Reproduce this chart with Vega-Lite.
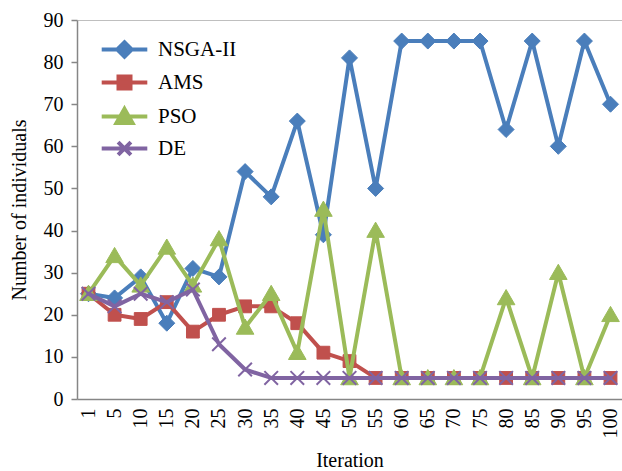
{
  "$schema": "https://vega.github.io/schema/vega-lite/v6.json",
  "width": 545,
  "height": 379,
  "autosize": "none",
  "padding": {"left": 77, "top": 20, "right": 0, "bottom": 72},
  "background": "white",
  "config": {
    "view": {"stroke": null},
    "font": "Liberation Serif",
    "axis": {"labelFont": "Liberation Serif", "titleFont": "Liberation Serif", "labelColor": "black", "titleColor": "black", "titleFontWeight": "normal", "labelFontSize": 20, "titleFontSize": 20}
  },
  "data": {"values": [
    {"iter": 1, "series": "NSGA-II", "value": 25}, {"iter": 5, "series": "NSGA-II", "value": 24}, {"iter": 10, "series": "NSGA-II", "value": 29}, {"iter": 15, "series": "NSGA-II", "value": 18}, {"iter": 20, "series": "NSGA-II", "value": 31}, {"iter": 25, "series": "NSGA-II", "value": 29}, {"iter": 30, "series": "NSGA-II", "value": 54}, {"iter": 35, "series": "NSGA-II", "value": 48}, {"iter": 40, "series": "NSGA-II", "value": 66}, {"iter": 45, "series": "NSGA-II", "value": 39}, {"iter": 50, "series": "NSGA-II", "value": 81}, {"iter": 55, "series": "NSGA-II", "value": 50}, {"iter": 60, "series": "NSGA-II", "value": 85}, {"iter": 65, "series": "NSGA-II", "value": 85}, {"iter": 70, "series": "NSGA-II", "value": 85}, {"iter": 75, "series": "NSGA-II", "value": 85}, {"iter": 80, "series": "NSGA-II", "value": 64}, {"iter": 85, "series": "NSGA-II", "value": 85}, {"iter": 90, "series": "NSGA-II", "value": 60}, {"iter": 95, "series": "NSGA-II", "value": 85}, {"iter": 100, "series": "NSGA-II", "value": 70},
    {"iter": 1, "series": "AMS", "value": 25}, {"iter": 5, "series": "AMS", "value": 20}, {"iter": 10, "series": "AMS", "value": 19}, {"iter": 15, "series": "AMS", "value": 23}, {"iter": 20, "series": "AMS", "value": 16}, {"iter": 25, "series": "AMS", "value": 20}, {"iter": 30, "series": "AMS", "value": 22}, {"iter": 35, "series": "AMS", "value": 22}, {"iter": 40, "series": "AMS", "value": 18}, {"iter": 45, "series": "AMS", "value": 11}, {"iter": 50, "series": "AMS", "value": 9}, {"iter": 55, "series": "AMS", "value": 5}, {"iter": 60, "series": "AMS", "value": 5}, {"iter": 65, "series": "AMS", "value": 5}, {"iter": 70, "series": "AMS", "value": 5}, {"iter": 75, "series": "AMS", "value": 5}, {"iter": 80, "series": "AMS", "value": 5}, {"iter": 85, "series": "AMS", "value": 5}, {"iter": 90, "series": "AMS", "value": 5}, {"iter": 95, "series": "AMS", "value": 5}, {"iter": 100, "series": "AMS", "value": 5},
    {"iter": 1, "series": "PSO", "value": 25}, {"iter": 5, "series": "PSO", "value": 34}, {"iter": 10, "series": "PSO", "value": 27}, {"iter": 15, "series": "PSO", "value": 36}, {"iter": 20, "series": "PSO", "value": 27}, {"iter": 25, "series": "PSO", "value": 38}, {"iter": 30, "series": "PSO", "value": 17}, {"iter": 35, "series": "PSO", "value": 25}, {"iter": 40, "series": "PSO", "value": 11}, {"iter": 45, "series": "PSO", "value": 45}, {"iter": 50, "series": "PSO", "value": 5}, {"iter": 55, "series": "PSO", "value": 40}, {"iter": 60, "series": "PSO", "value": 5}, {"iter": 65, "series": "PSO", "value": 5}, {"iter": 70, "series": "PSO", "value": 5}, {"iter": 75, "series": "PSO", "value": 5}, {"iter": 80, "series": "PSO", "value": 24}, {"iter": 85, "series": "PSO", "value": 5}, {"iter": 90, "series": "PSO", "value": 30}, {"iter": 95, "series": "PSO", "value": 5}, {"iter": 100, "series": "PSO", "value": 20},
    {"iter": 1, "series": "DE", "value": 25}, {"iter": 5, "series": "DE", "value": 22}, {"iter": 10, "series": "DE", "value": 25}, {"iter": 15, "series": "DE", "value": 23}, {"iter": 20, "series": "DE", "value": 26}, {"iter": 25, "series": "DE", "value": 13}, {"iter": 30, "series": "DE", "value": 7}, {"iter": 35, "series": "DE", "value": 5}, {"iter": 40, "series": "DE", "value": 5}, {"iter": 45, "series": "DE", "value": 5}, {"iter": 50, "series": "DE", "value": 5}, {"iter": 55, "series": "DE", "value": 5}, {"iter": 60, "series": "DE", "value": 5}, {"iter": 65, "series": "DE", "value": 5}, {"iter": 70, "series": "DE", "value": 5}, {"iter": 75, "series": "DE", "value": 5}, {"iter": 80, "series": "DE", "value": 5}, {"iter": 85, "series": "DE", "value": 5}, {"iter": 90, "series": "DE", "value": 5}, {"iter": 95, "series": "DE", "value": 5}, {"iter": 100, "series": "DE", "value": 5}
  ]},
  "encoding": {
    "x": {"field": "iter", "type": "ordinal", "sort": "ascending", "scale": {"padding": 0.44},
      "axis": {"title": "Iteration", "labelAngle": -90, "ticks": false, "labelPadding": 9, "titlePadding": 12, "domainColor": "#868686", "domainWidth": 1.5}},
    "y": {"field": "value", "type": "quantitative", "scale": {"domain": [0, 90], "nice": false},
      "axis": {"title": "Number of individuals", "values": [0, 10, 20, 30, 40, 50, 60, 70, 80, 90], "tickSize": 6, "tickColor": "#868686", "tickWidth": 1.5, "domainColor": "#868686", "domainWidth": 1.5, "labelPadding": 8, "titlePadding": 14,
        "grid": true, "gridColor": "#bfbfbf", "gridWidth": 1, "gridOpacity": {"condition": {"test": "datum.value === 90", "value": 1}, "value": 0}}},
    "color": {"field": "series", "type": "nominal",
      "scale": {"domain": ["NSGA-II", "AMS", "PSO", "DE"], "range": ["#4A7EBB", "#C0504D", "#9BBB59", "#8064A2"]},
      "legend": {"orient": "none", "legendX": 37, "legendY": 19, "title": null, "symbolSize": 256, "labelOffset": 23, "rowPadding": 3, "labelFontSize": 21, "labelFont": "Liberation Serif", "labelColor": "black",
        "encode": {"symbols": {"update": {
          "shape": {"signal": "datum.value === 'NSGA-II' ? 'M-2.85,0H2.85M-0.9,0L0,-0.9L0.9,0L0,0.9Z' : datum.value === 'AMS' ? 'M-2.85,0H2.85M-0.75,-0.75H0.75V0.75H-0.75Z' : datum.value === 'PSO' ? 'M-2.85,0H2.85M0,-0.95L1,0.8L-1,0.8Z' : 'M-2.85,0H2.85M-0.8,-0.8L0.8,0.8M-0.8,0.8L0.8,-0.8'"},
          "fill": {"signal": "scale('color', datum.value)"},
          "stroke": {"signal": "scale('color', datum.value)"},
          "strokeWidth": {"value": 4},
          "opacity": {"value": 1},
          "fillOpacity": {"value": 1},
          "strokeOpacity": {"value": 1}
        }}}}
    }
  },
  "layer": [
    {"transform": [{"filter": "datum.series === 'NSGA-II'"}], "mark": {"type": "line", "strokeWidth": 4, "strokeJoin": "round", "strokeCap": "round"}},
    {"transform": [{"filter": "datum.series === 'NSGA-II'"}], "mark": {"type": "point", "filled": true, "opacity": 1, "size": 256, "shape": "M-1,0L0,-1L1,0L0,1Z", "stroke": "#4A7EBB", "strokeWidth": 1}},
    {"transform": [{"filter": "datum.series === 'AMS'"}], "mark": {"type": "line", "strokeWidth": 4, "strokeJoin": "round", "strokeCap": "round"}},
    {"transform": [{"filter": "datum.series === 'AMS'"}], "mark": {"type": "point", "filled": true, "opacity": 1, "size": 256, "shape": "M-0.8,-0.8H0.8V0.8H-0.8Z", "stroke": "#C0504D", "strokeWidth": 1}},
    {"transform": [{"filter": "datum.series === 'PSO'"}], "mark": {"type": "line", "strokeWidth": 4, "strokeJoin": "round", "strokeCap": "round"}},
    {"transform": [{"filter": "datum.series === 'PSO'"}], "mark": {"type": "point", "filled": true, "opacity": 1, "size": 256, "shape": "M0,-1.05L1.1,0.85L-1.1,0.85Z", "stroke": "#9BBB59", "strokeWidth": 1}},
    {"transform": [{"filter": "datum.series === 'DE'"}], "mark": {"type": "line", "strokeWidth": 4, "strokeJoin": "round", "strokeCap": "round"}},
    {"transform": [{"filter": "datum.series === 'DE'"}], "mark": {"type": "point", "filled": true, "opacity": 1, "size": 256, "shape": "M-0.85,-0.85L0.85,0.85M-0.85,0.85L0.85,-0.85", "stroke": "#8064A2", "strokeWidth": 2}}
  ]
}
